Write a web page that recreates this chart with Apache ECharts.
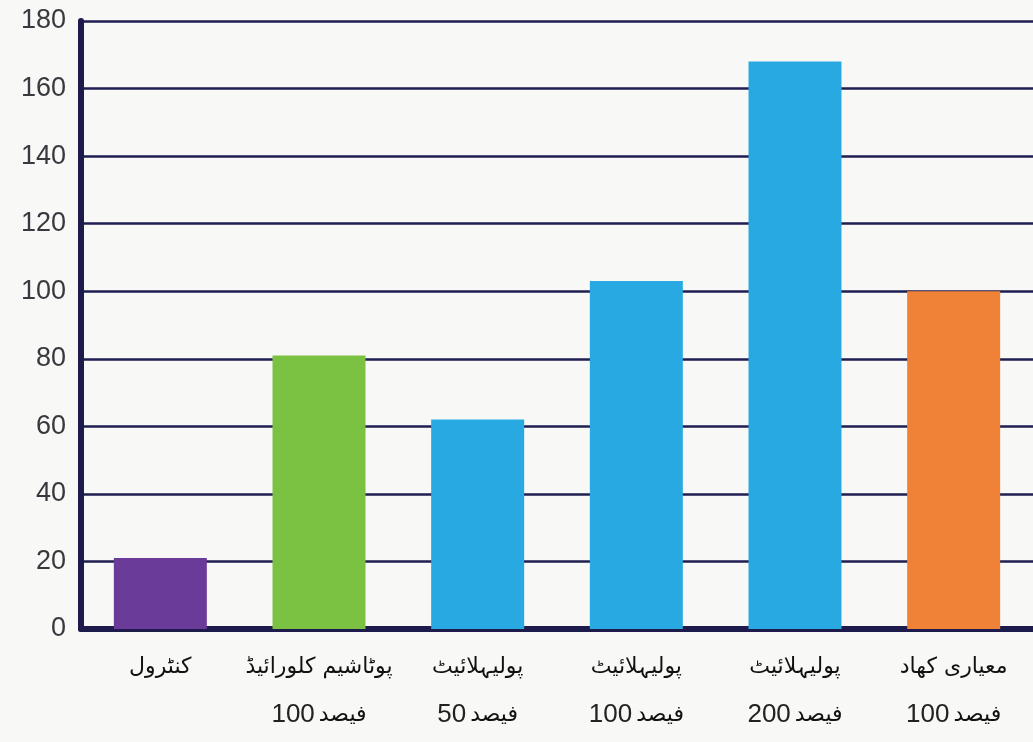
<!DOCTYPE html>
<html dir="ltr">
<head>
<meta charset="utf-8">
<script src="https://cdn.jsdelivr.net/npm/echarts@6/dist/echarts.min.js"></script>
<style>
  html, body { margin: 0; padding: 0; background: #f8f8f6; }
  #chart { width: 1033px; height: 742px; }
</style>
</head>
<body>
<div id="chart"></div>
<script>
// Treatment names (Urdu), one per bar
const categories = [
  'کنٹرول',
  'پوٹاشیم کلورائیڈ\n100 فیصد',
  'پولیہلائیٹ\n50 فیصد',
  'پولیہلائیٹ\n100 فیصد',
  'پولیہلائیٹ\n200 فیصد',
  'معیاری کھاد\n100 فیصد'
];
// Relative yield per treatment
const values = [21, 81, 62, 103, 168, 100];
// Bar fill per treatment
const barColors = ['#6b3b99', '#7cc242', '#29a9e1', '#29a9e1', '#29a9e1', '#ef8237'];
// Value axis ticks
const yMin = 0;
const yMax = 180;
const yStep = 20;

// Second label line is drawn as separate rich tokens so the number
// always sits to the left of the word, as in print.
function formatCategory(name) {
  const lines = name.split('\n');
  let out = '{t|' + lines[0] + '}';
  if (lines.length > 1) {
    const sp = lines[1].indexOf(' ');
    const num = lines[1].slice(0, sp);
    const word = lines[1].slice(sp + 1);
    out += '\n{n|' + num + '}{w|' + word + '}';
  }
  return out;
}

const chart = echarts.init(document.getElementById('chart'), null, { renderer: 'canvas' });

const labelText = { color: '#111', fontFamily: 'DejaVu Sans', fontSize: 22, lineHeight: 48 };

chart.setOption({
  backgroundColor: '#f8f8f6',
  animation: false,
  grid: { left: 81, right: -3, top: 21, bottom: 113 },
  xAxis: {
    type: 'category',
    data: categories,
    axisLine: { lineStyle: { color: '#1d1b4c', width: 6 } },
    axisTick: { show: false },
    axisLabel: {
      interval: 0,
      margin: 14,
      formatter: formatCategory,
      rich: {
        t: labelText,
        w: Object.assign({}, labelText, { padding: [0, 0, 0, 4] }),
        n: { color: '#222', fontFamily: 'Liberation Sans', fontSize: 26, lineHeight: 48 }
      }
    }
  },
  yAxis: {
    type: 'value',
    min: yMin,
    max: yMax,
    interval: yStep,
    axisLine: { show: true, lineStyle: { color: '#1d1b4c', width: 6 } },
    axisTick: { show: false },
    axisLabel: {
      margin: 15,
      color: '#38383e',
      fontFamily: 'Liberation Sans',
      fontSize: 27
    },
    splitLine: { lineStyle: { color: '#1f1e52', width: 2.5 } }
  },
  series: [{
    type: 'bar',
    data: values.map((v, i) => ({ value: v, itemStyle: { color: barColors[i] } })),
    barWidth: 93
  }]
});
</script>
</body>
</html>
